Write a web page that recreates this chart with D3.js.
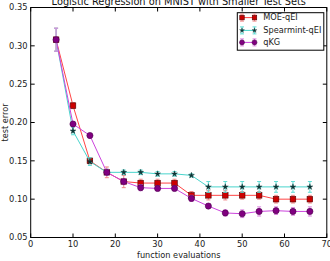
<!DOCTYPE html>
<html>
<head>
<meta charset="utf-8">
<script src="https://cdn.jsdelivr.net/npm/d3@7"></script>
<style>
body { margin: 0; background: #fff; }
svg { display: block; font-family: "DejaVu Sans", sans-serif; }
</style>
</head>
<body>
<div class="container"></div>
<script>
var evals = [6, 10, 14, 18, 22, 26, 30, 34, 38, 42, 46, 50, 54, 58, 62, 66];

var moeMean = [0.308, 0.222, 0.150, 0.135, 0.123, 0.121, 0.121, 0.121, 0.105, 0.105, 0.105, 0.105, 0.105, 0.100, 0.100, 0.100];
var moeErr  = [0.015, 0.004, 0.004, 0.007, 0.008, 0.005, 0.005, 0.005, 0.005, 0.006, 0.006, 0.005, 0.005, 0.005, 0.005, 0.005];

var spearMean = [0.308, 0.189, 0.149, 0.135, 0.135, 0.135, 0.133, 0.133, 0.131, 0.116, 0.116, 0.116, 0.116, 0.116, 0.116, 0.116];
var spearErr  = [0.015, 0.005, 0.005, 0.004, 0.003, 0.003, 0.003, 0.003, 0.002, 0.007, 0.007, 0.007, 0.007, 0.007, 0.007, 0.007];

var qkgMean = [0.308, 0.198, 0.183, 0.135, 0.123, 0.115, 0.114, 0.114, 0.101, 0.091, 0.082, 0.081, 0.084, 0.085, 0.084, 0.084];
var qkgErr  = [0.015, 0.003, 0.003, 0.004, 0.004, 0.004, 0.003, 0.003, 0.004, 0.003, 0.004, 0.005, 0.006, 0.005, 0.005, 0.006];

var seriesNames = ["MOE-qEI", "Spearmint-qEI", "qKG"];
var xTicks = [0, 10, 20, 30, 40, 50, 60, 70];
var yTicks = [0.05, 0.10, 0.15, 0.20, 0.25, 0.30, 0.35];

var W = 330, H = 261;
var m = {left: 30.7, right: 3.2, top: 7.5, bottom: 23.5};

var svg = d3.select('.container').append('svg')
	.attr('width', W)
	.attr('height', H);

var x = d3.scaleLinear().domain([0, 70]).range([m.left, W - m.right]);
var y = d3.scaleLinear().domain([0.05, 0.35]).range([H - m.bottom, m.top]);

var series = [
	{name: seriesNames[0], mean: moeMean, err: moeErr, line: '#ff4444', ecol: '#f08888', fill: '#cc0000', edge: '#550000', shape: 'square'},
	{name: seriesNames[1], mean: spearMean, err: spearErr, line: '#48d4cc', ecol: '#60dcd4', fill: '#0d3535', edge: '#0d3535', shape: 'star'},
	{name: seriesNames[2], mean: qkgMean, err: qkgErr, line: '#cc44dd', ecol: '#dd88e0', fill: '#800080', edge: '#4a004a', shape: 'circle'}
];

// sc = marker scale (legend uses smaller markers)
function drawMarker(g, s, cx, cy, sc) {
	if (s.shape == 'square') {
		var h = 2.8 * sc;
		g.append('rect').attr('x', cx - h).attr('y', cy - h).attr('width', 2 * h).attr('height', 2 * h)
			.attr('fill', s.fill).attr('stroke', s.edge).attr('stroke-width', 0.6);
	} else if (s.shape == 'circle') {
		g.append('circle').attr('cx', cx).attr('cy', cy).attr('r', 3.1 * sc)
			.attr('fill', s.fill).attr('stroke', s.edge).attr('stroke-width', 0.6);
	} else {
		g.append('path').attr('d', d3.symbol().type(d3.symbolStar).size(11 * sc * sc)())
			.attr('transform', 'translate(' + cx + ',' + cy + ')')
			.attr('fill', s.fill).attr('stroke', s.edge).attr('stroke-width', 0.4);
	}
}

function drawErr(g, s, cx, cy0, cy1) {
	g.append('line').attr('x1', cx).attr('x2', cx).attr('y1', cy0).attr('y2', cy1)
		.attr('stroke', s.ecol).attr('stroke-width', 1);
	[cy0, cy1].forEach(function(yy){
		g.append('line').attr('x1', cx - 2).attr('x2', cx + 2).attr('y1', yy).attr('y2', yy)
			.attr('stroke', s.ecol).attr('stroke-width', 1);
	});
}

// title
svg.append('text')
	.attr('x', (x(0) + x(70)) / 2).attr('y', 4.5)
	.attr('text-anchor', 'middle')
	.style('font-size', '9.8px').attr('fill', '#111')
	.text('Logistic Regression on MNIST with Smaller Test Sets');

var plot = svg.append('g');

series.forEach(function(s){
	var g = plot.append('g');
	var line = d3.line().x(function(d, i){ return x(evals[i]); }).y(function(d){ return y(d); });
	g.append('path').datum(s.mean).attr('d', line)
		.attr('fill', 'none').attr('stroke', s.line).attr('stroke-width', 1);
	s.mean.forEach(function(v, i){
		drawErr(g, s, x(evals[i]), y(v - s.err[i]), y(v + s.err[i]));
	});
	s.mean.forEach(function(v, i){
		drawMarker(g, s, x(evals[i]), y(v), 1);
	});
});

// frame + ticks
var axes = svg.append('g').attr('stroke', '#000').attr('stroke-width', 1);
axes.append('rect')
	.attr('x', x(0)).attr('y', y(0.35))
	.attr('width', x(70) - x(0)).attr('height', y(0.05) - y(0.35))
	.attr('fill', 'none');

xTicks.forEach(function(t){
	axes.append('line').attr('x1', x(t)).attr('x2', x(t)).attr('y1', y(0.05)).attr('y2', y(0.05) - 4);
	axes.append('line').attr('x1', x(t)).attr('x2', x(t)).attr('y1', y(0.35)).attr('y2', y(0.35) + 4);
	svg.append('text').attr('x', x(t)).attr('y', 246.5)
		.attr('text-anchor', 'middle').style('font-size', '8.3px').attr('fill', '#222')
		.text(d3.format('d')(t));
});

yTicks.forEach(function(t){
	axes.append('line').attr('x1', x(0)).attr('x2', x(0) + 4).attr('y1', y(t)).attr('y2', y(t));
	axes.append('line').attr('x1', x(70)).attr('x2', x(70) - 4).attr('y1', y(t)).attr('y2', y(t));
	svg.append('text').attr('x', 27.6).attr('y', y(t)).attr('dy', '0.35em')
		.attr('text-anchor', 'end').style('font-size', '8.3px').attr('fill', '#222')
		.text(d3.format('.2f')(t));
});

// axis labels
svg.append('text')
	.attr('x', (x(0) + x(70)) / 2).attr('y', 258)
	.attr('text-anchor', 'middle').style('font-size', '8.2px').attr('fill', '#222')
	.text('function evaluations');

svg.append('text')
	.attr('transform', 'translate(7.5,' + ((y(0.05) + y(0.35)) / 2) + ') rotate(-90)')
	.attr('text-anchor', 'middle').style('font-size', '8.2px').attr('fill', '#222')
	.text('test error');

// legend
var leg = svg.append('g');
leg.append('rect').attr('x', 237.3).attr('y', 12.7).attr('width', 86.5).attr('height', 37.5)
	.attr('fill', '#fff').attr('stroke', '#000').attr('stroke-width', 1);

var legY = [17.6, 30.4, 42.4];
series.forEach(function(s, i){
	var g = leg.append('g');
	var yy = legY[i];
	g.append('line').attr('x1', 242).attr('x2', 254.5).attr('y1', yy).attr('y2', yy)
		.attr('stroke', s.line).attr('stroke-width', 1);
	[242, 254.5].forEach(function(cx){
		drawErr(g, s, cx, yy - 3.5, yy + 3.5);
		drawMarker(g, s, cx, yy, 0.8);
	});
	g.append('text').attr('x', 263.3).attr('y', yy).attr('dy', '0.35em')
		.style('font-size', '8.2px').attr('fill', '#222')
		.text(s.name);
});
</script>
</body>
</html>
